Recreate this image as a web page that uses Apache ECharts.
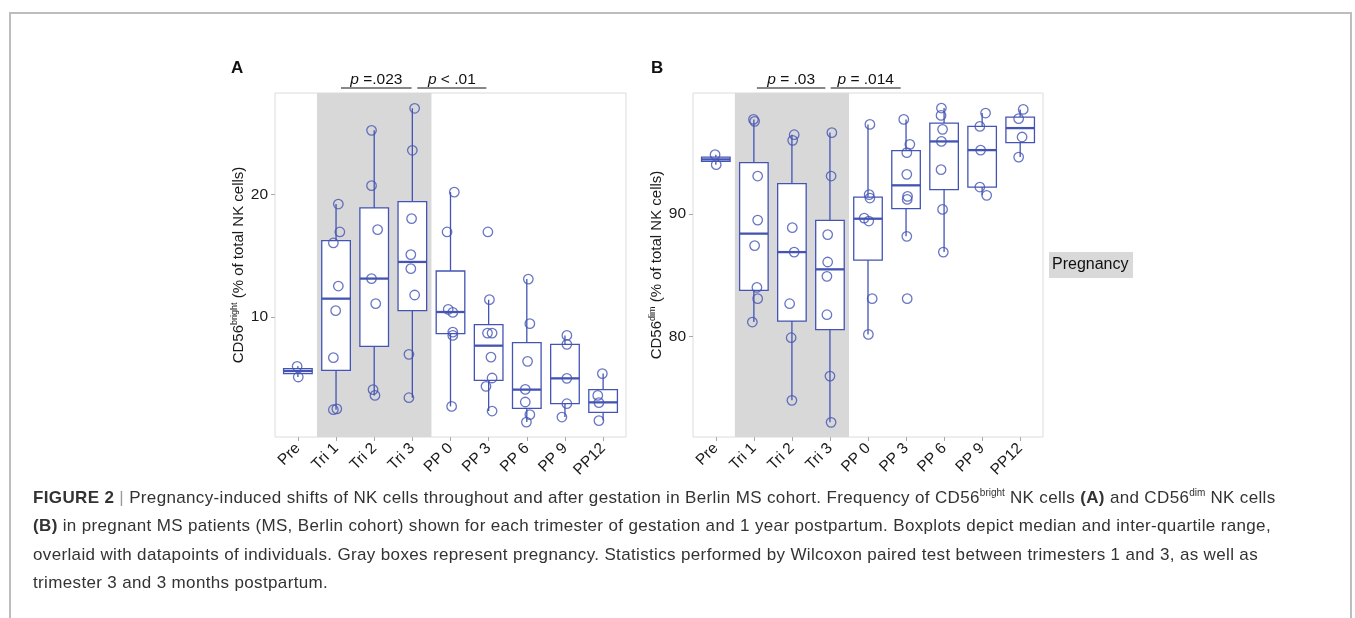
<!DOCTYPE html>
<html>
<head>
<meta charset="utf-8">
<script src="https://cdn.jsdelivr.net/npm/echarts@6/dist/echarts.min.js"></script>
<style>
  html, body { margin: 0; padding: 0; background: #fff; }
  #wrap { position: relative; width: 1355px; height: 618px; overflow: hidden; }
  #frame { position: absolute; left: 9px; top: 12px; width: 1343px; height: 700px; border: 2px solid #bdbdbd; border-bottom: none; box-sizing: border-box; }
  #chart { position: absolute; left: 0; top: 0; width: 1355px; height: 618px; }
  #caption { position: absolute; left: 33px; top: 484px; font-family: 'Liberation Sans', Arial, sans-serif; font-size: 17px; letter-spacing: 0.35px; line-height: 28.3px; color: #333; white-space: nowrap; }
  #caption sup { font-size: 10px; line-height: 0; letter-spacing: 0; }
  #caption .sep { color: #999; }
</style>
</head>
<body>
<div id="wrap">
  <div id="frame"></div>
  <div id="chart"></div>
  <div id="caption">
    <div><b>FIGURE 2</b> <span class="sep">|</span> Pregnancy-induced shifts of NK cells throughout and after gestation in Berlin MS cohort. Frequency of CD56<sup>bright</sup> NK cells <b>(A)</b> and CD56<sup>dim</sup> NK cells</div>
    <div><b>(B)</b> in pregnant MS patients (MS, Berlin cohort) shown for each trimester of gestation and 1 year postpartum. Boxplots depict median and inter-quartile range,</div>
    <div>overlaid with datapoints of individuals. Gray boxes represent pregnancy. Statistics performed by Wilcoxon paired test between trimesters 1 and 3, as well as</div>
    <div>trimester 3 and 3 months postpartum.</div>
  </div>
</div>
<script>
    // categories on the x axis (placed at 1..9)
    const categories = ['Pre', 'Tri 1', 'Tri 2', 'Tri 3', 'PP 0', 'PP 3', 'PP 6', 'PP 9', 'PP12'];
    const pregnancyRange = [1.5, 4.5];

    // box stats: [lower whisker, Q1, median, Q3, upper whisker]
    const boxesBright = [
        [5.10, 5.38, 5.59, 5.78, 5.97],
        [2.43, 5.65, 11.50, 16.24, 19.23],
        [3.60, 7.61, 13.14, 18.91, 25.25],
        [3.41, 10.52, 14.50, 19.43, 27.05],
        [2.70, 8.64, 10.41, 13.76, 20.20],
        [2.32, 4.83, 7.66, 9.38, 11.42],
        [1.42, 2.54, 4.07, 7.91, 13.10],
        [1.83, 2.92, 4.99, 7.77, 8.50],
        [1.54, 2.21, 3.03, 4.07, 5.38],
    ];
    const pointsBright = [
        [5.97, 5.10],
        [19.23, 16.95, 16.05, 12.53, 10.52, 6.68, 2.43, 2.50],
        [25.25, 20.73, 17.14, 13.14, 11.09, 4.07, 3.60],
        [27.05, 23.62, 18.04, 15.10, 13.95, 11.80, 6.95, 3.41],
        [20.20, 16.95, 10.63, 10.38, 8.77, 8.50, 2.70],
        [16.95, 11.42, 8.69, 8.69, 6.73, 5.02, 4.34, 2.32],
        [13.10, 9.46, 6.38, 4.09, 3.06, 2.03, 1.42],
        [8.50, 7.77, 4.99, 2.92, 1.83],
        [5.38, 3.60, 3.01, 1.54],
    ];
    // horizontal jitter of each point, in category units
    const jitterBright = [
        [-0.02, 0.01],
        [0.06, 0.10, -0.07, 0.06, -0.01, -0.07, -0.07, 0.02],
        [-0.07, -0.07, 0.09, -0.07, 0.04, -0.03, 0.02],
        [0.06, 0.00, -0.02, -0.04, -0.04, 0.06, -0.09, -0.09],
        [0.10, -0.09, -0.06, 0.06, 0.06, 0.06, 0.03],
        [-0.02, 0.02, -0.03, 0.09, 0.06, 0.09, -0.07, 0.09],
        [0.04, 0.08, 0.02, -0.04, -0.04, 0.08, -0.01],
        [0.05, 0.05, 0.05, 0.05, -0.08],
        [-0.02, -0.14, -0.11, -0.11],
    ];

    const boxesDim = [
        [94.04, 94.31, 94.47, 94.66, 94.86],
        [81.17, 83.76, 88.40, 94.20, 97.74],
        [74.77, 81.25, 86.89, 92.49, 96.49],
        [72.97, 80.55, 85.48, 89.48, 96.66],
        [80.16, 86.24, 89.62, 91.39, 97.33],
        [88.18, 90.44, 92.35, 95.18, 97.74],
        [86.89, 92.00, 95.94, 97.44, 98.67],
        [91.53, 92.21, 95.23, 97.17, 98.26],
        [94.66, 95.84, 97.03, 97.93, 98.56],
    ];
    const pointsDim = [
        [94.86, 94.04],
        [97.74, 97.58, 93.11, 89.51, 87.42, 84.00, 83.08, 81.17],
        [96.49, 96.03, 88.89, 86.89, 82.67, 79.89, 74.77],
        [96.66, 93.11, 88.32, 86.08, 84.91, 81.77, 76.75, 72.97],
        [97.33, 91.59, 91.31, 89.67, 89.43, 83.08, 80.16],
        [97.74, 95.70, 95.02, 93.25, 91.45, 91.20, 88.18, 83.08],
        [98.67, 98.07, 96.93, 95.94, 93.63, 90.38, 86.89],
        [98.26, 97.17, 95.23, 92.21, 91.53],
        [98.56, 97.80, 96.30, 94.66],
    ];
    const jitterDim = [
        [-0.02, 0.01],
        [-0.01, 0.02, 0.10, 0.10, 0.02, 0.08, 0.10, -0.04],
        [0.06, 0.02, 0.01, 0.06, -0.06, -0.02, 0.00],
        [0.05, 0.03, -0.06, -0.06, -0.08, -0.08, 0.00, 0.03],
        [0.05, 0.03, 0.05, -0.10, 0.02, 0.11, 0.01],
        [-0.06, 0.10, 0.02, 0.02, 0.04, 0.03, 0.02, 0.03],
        [-0.07, -0.08, -0.04, -0.07, -0.08, -0.04, -0.02],
        [0.09, -0.06, -0.04, -0.06, 0.12],
        [0.08, -0.04, 0.05, -0.04],
    ];

    const ticksBright = [10, 20];
    const ticksDim = [80, 90];

    // p-value brackets: [label after italic p, from x, to x]
    const statsBright = [[' =.023', 2.13, 3.98], [' < .01', 4.13, 5.94]];
    const statsDim = [[' = .03', 2.08, 3.88], [' = .014', 4.02, 5.86]];

    const BLUE = '#4354b4';
    const FONT = "'Liberation Sans', Arial, sans-serif";
    const BOX_WIDTH = 0.75;

    const catPositions = categories.map((c, i) => i + 1);

    const renderBox = (params, api) => {
        const x = api.value(0);
        const lo = api.coord([x, api.value(1)]);
        const q1 = api.coord([x, api.value(2)]);
        const md = api.coord([x, api.value(3)]);
        const q3 = api.coord([x, api.value(4)]);
        const hi = api.coord([x, api.value(5)]);
        const half = api.size([BOX_WIDTH, 0])[0] / 2;
        const line = { stroke: BLUE, lineWidth: 1.3 };
        return {
            type: 'group',
            children: [
                { type: 'line', shape: { x1: lo[0], y1: lo[1], x2: q1[0], y2: q1[1] }, style: line },
                { type: 'line', shape: { x1: q3[0], y1: q3[1], x2: hi[0], y2: hi[1] }, style: line },
                { type: 'rect', shape: { x: q3[0] - half, y: q3[1], width: half * 2, height: q1[1] - q3[1] },
                  style: { fill: '#fff', stroke: BLUE, lineWidth: 1.3 } },
                { type: 'line', shape: { x1: md[0] - half, y1: md[1], x2: md[0] + half, y2: md[1] },
                  style: { stroke: BLUE, lineWidth: 2.3 } },
            ],
        };
    };

    const xAxisFor = (gridIndex) => ({
        type: 'value',
        gridIndex,
        min: 0.4,
        max: 9.6,
        axisLine: { show: false },
        splitLine: { show: false },
        axisTick: { show: true, customValues: catPositions, length: 4, lineStyle: { color: '#aaa' } },
        axisLabel: {
            customValues: catPositions,
            formatter: (v) => categories[Math.round(v) - 1],
            rotate: 45,
            margin: 9,
            fontSize: 15.5,
            fontFamily: FONT,
            color: '#1a1a1a',
        },
    });

    const yAxisFor = (gridIndex, min, max, ticks, sup) => ({
        type: 'value',
        gridIndex,
        min,
        max,
        name: `CD56{sup|${sup}} (% of total NK cells)`,
        nameLocation: 'middle',
        nameRotate: 90,
        nameGap: 28,
        nameTextStyle: {
            fontSize: 15,
            fontFamily: FONT,
            color: '#1a1a1a',
            rich: { sup: { fontSize: 9, fontFamily: FONT, color: '#1a1a1a', verticalAlign: 'top', padding: [0, 0, 8, 0] } },
        },
        axisLine: { show: false },
        splitLine: { show: false },
        axisTick: { show: true, customValues: ticks, length: 4, lineStyle: { color: '#aaa' } },
        axisLabel: { customValues: ticks, margin: 7, fontSize: 15.5, fontFamily: FONT, color: '#1a1a1a' },
    });

    const pointData = (points, jitter) => {
        const out = [];
        points.forEach((vals, i) => {
            vals.forEach((v, j) => out.push([i + 1 + jitter[i][j], v]));
        });
        return out;
    };
    const boxData = (boxes) => boxes.map((b, i) => [i + 1, ...b]);

    const panelSeries = (idx, boxes, points, jitter) => [
        {
            type: 'line',
            xAxisIndex: idx,
            yAxisIndex: idx,
            data: [],
            z: 1,
            silent: true,
            markArea: {
                silent: true,
                itemStyle: { color: '#d9d8d8' },
                data: [[{ xAxis: pregnancyRange[0] }, { xAxis: pregnancyRange[1] }]],
            },
        },
        {
            type: 'custom',
            xAxisIndex: idx,
            yAxisIndex: idx,
            z: 3,
            renderItem: renderBox,
            encode: { x: 0, y: [1, 2, 3, 4, 5] },
            data: boxData(boxes),
        },
        {
            type: 'scatter',
            xAxisIndex: idx,
            yAxisIndex: idx,
            z: 4,
            symbol: 'circle',
            symbolSize: 9.5,
            itemStyle: { color: 'rgba(0,0,0,0)', borderColor: BLUE, borderWidth: 1.3 },
            data: pointData(points, jitter),
        },
    ];

    const chart = echarts.init(document.getElementById('chart'));

    const option = {
        animation: false,
        grid: [
            { left: 275, top: 93, width: 351, height: 344, show: true, borderColor: '#dcdcdc', borderWidth: 1, backgroundColor: 'transparent' },
            { left: 693, top: 93, width: 350, height: 344, show: true, borderColor: '#dcdcdc', borderWidth: 1, backgroundColor: 'transparent' },
        ],
        xAxis: [xAxisFor(0), xAxisFor(1)],
        yAxis: [
            yAxisFor(0, 0.2, 28.3, ticksBright, 'bright'),
            yAxisFor(1, 71.77, 99.9, ticksDim, 'dim'),
        ],
        series: [
            ...panelSeries(0, boxesBright, pointsBright, jitterBright),
            ...panelSeries(1, boxesDim, pointsDim, jitterDim),
        ],
    };
    chart.setOption(option);

    // annotations that sit outside the plot areas
    const statGraphics = (gridIndex, stats, yMax) => stats.map(([label, from, to]) => {
        const a = chart.convertToPixel({ gridIndex }, [from, yMax]);
        const b = chart.convertToPixel({ gridIndex }, [to, yMax]);
        const y = a[1] - 5;
        return {
            type: 'group',
            children: [
                { type: 'line', shape: { x1: a[0], y1: y, x2: b[0], y2: y }, style: { stroke: '#111', lineWidth: 1 } },
                {
                    type: 'text',
                    x: (a[0] + b[0]) / 2,
                    y: y - 8,
                    style: {
                        text: `{i|p}${label}`,
                        align: 'center',
                        verticalAlign: 'middle',
                        fontSize: 15.5,
                        fontFamily: FONT,
                        fill: '#111',
                        rich: { i: { fontStyle: 'italic', fontSize: 15.5, fontFamily: FONT } },
                    },
                },
            ],
        };
    });

    chart.setOption({
        graphic: [
            { type: 'text', left: 231, top: 60, style: { text: 'A', fontSize: 17, fontWeight: 'bold', fontFamily: FONT, fill: '#111' } },
            { type: 'text', left: 651, top: 60, style: { text: 'B', fontSize: 17, fontWeight: 'bold', fontFamily: FONT, fill: '#111' } },
            ...statGraphics(0, statsBright, 28.3),
            ...statGraphics(1, statsDim, 99.9),
            {
                type: 'group',
                left: 1049,
                top: 252,
                children: [
                    { type: 'rect', shape: { x: 0, y: 0, width: 84, height: 26 }, style: { fill: '#d9d9d9' } },
                    { type: 'text', x: 3, y: 13, style: { text: 'Pregnancy', fontSize: 16, fontFamily: FONT, fill: '#111', verticalAlign: 'middle' } },
                ],
            },
        ],
    });

    window.addEventListener('resize', () => chart.resize());
</script>
</body>
</html>
